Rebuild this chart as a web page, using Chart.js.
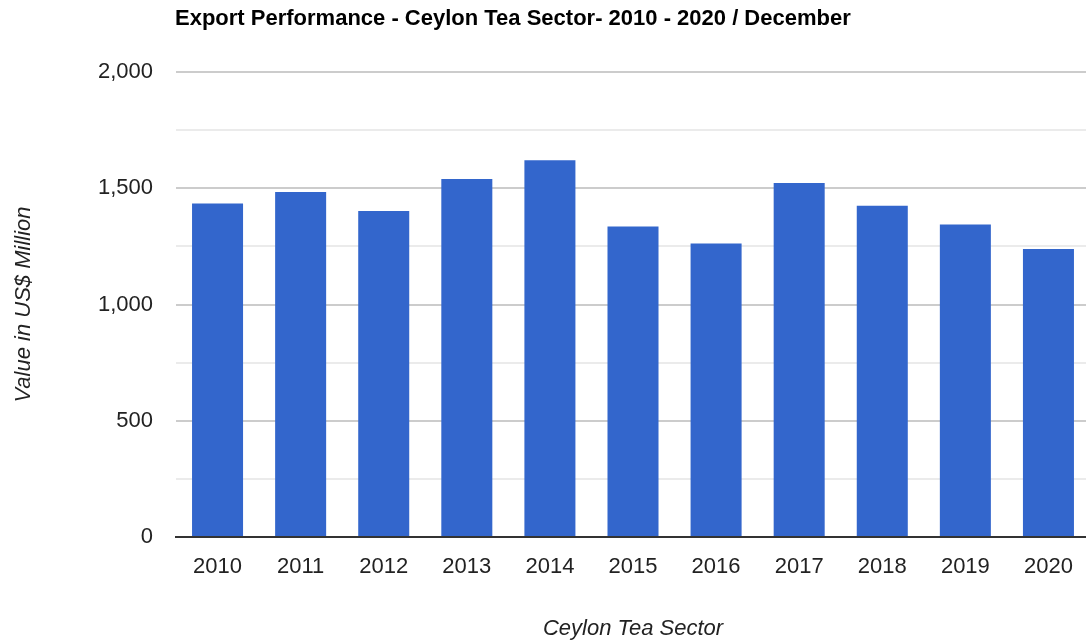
<!DOCTYPE html>
<html>
<head>
<meta charset="utf-8">
<script src="https://cdn.jsdelivr.net/npm/chart.js@4.4.1/dist/chart.umd.min.js"></script>
<style>
  html, body { margin: 0; padding: 0; background: #fff; overflow: hidden; }
  canvas { display: block; }
</style>
</head>
<body>
<canvas id="c" width="1090" height="644"></canvas>
<script>
const chartTitle = 'Export Performance - Ceylon Tea Sector- 2010 - 2020 / December';
const xAxisTitle = 'Ceylon Tea Sector';
const yAxisTitle = 'Value in US$ Million';
const categories = ['2010','2011','2012','2013','2014','2015','2016','2017','2018','2019','2020'];
const exportValues = [1434, 1484, 1402, 1540, 1620, 1336, 1262, 1523, 1425, 1344, 1239];
const yTickMin = 0;
const yTickMax = 2000;
const yTickStep = 250;
const yLabelStep = 500;

const titlePlugin = {
  id: 'leftTitle',
  afterDraw(chart) {
    const ctx = chart.ctx;
    ctx.save();
    ctx.font = 'bold 22px "Liberation Sans", Arial, sans-serif';
    ctx.fillStyle = '#000';
    ctx.textBaseline = 'middle';
    ctx.textAlign = 'left';
    ctx.fillText(chartTitle, chart.chartArea.left - 1, 19);
    ctx.restore();
  }
};

new Chart(document.getElementById('c'), {
  type: 'bar',
  data: {
    labels: categories,
    datasets: [{
      data: exportValues,
      backgroundColor: '#3366cc',
      borderWidth: 0,
      barPercentage: 0.614,
      categoryPercentage: 1.0
    }]
  },
  options: {
    responsive: false,
    animation: false,
    devicePixelRatio: 1,
    layout: { padding: { top: 72, right: 0, bottom: 0, left: 0 } },
    plugins: {
      legend: { display: false },
      tooltip: { enabled: false },
      title: { display: false }
    },
    scales: {
      x: {
        grid: { display: false, drawTicks: false },
        border: { display: true, color: '#333333', width: 2 },
        ticks: {
          color: '#222222',
          font: { family: '"Liberation Sans", Arial, sans-serif', size: 22 },
          padding: 17,
          maxRotation: 0
        },
        title: {
          display: true,
          text: xAxisTitle,
          color: '#222222',
          font: { family: '"Liberation Sans", Arial, sans-serif', size: 22, style: 'italic' },
          padding: { top: 0, bottom: 2 }
        },
        afterFit(scale) { scale.height = 107; }
      },
      y: {
        min: yTickMin,
        max: yTickMax,
        grid: {
          drawTicks: false,
          color: (c) => (c.tick && c.tick.value % yLabelStep === 0) ? '#cccccc' : '#ebebeb',
          lineWidth: 2
        },
        border: { display: false },
        ticks: {
          stepSize: yTickStep,
          color: '#222222',
          font: { family: '"Liberation Sans", Arial, sans-serif', size: 22 },
          padding: 23,
          callback: (v) => (v % yLabelStep === 0) ? v.toLocaleString('en-US') : ''
        },
        title: {
          display: true,
          text: yAxisTitle,
          color: '#222222',
          font: { family: '"Liberation Sans", Arial, sans-serif', size: 22, style: 'italic' },
          padding: { top: 11, bottom: 0 }
        },
        afterFit(scale) { scale.width = 176; }
      }
    }
  },
  plugins: [titlePlugin]
});
</script>
</body>
</html>
